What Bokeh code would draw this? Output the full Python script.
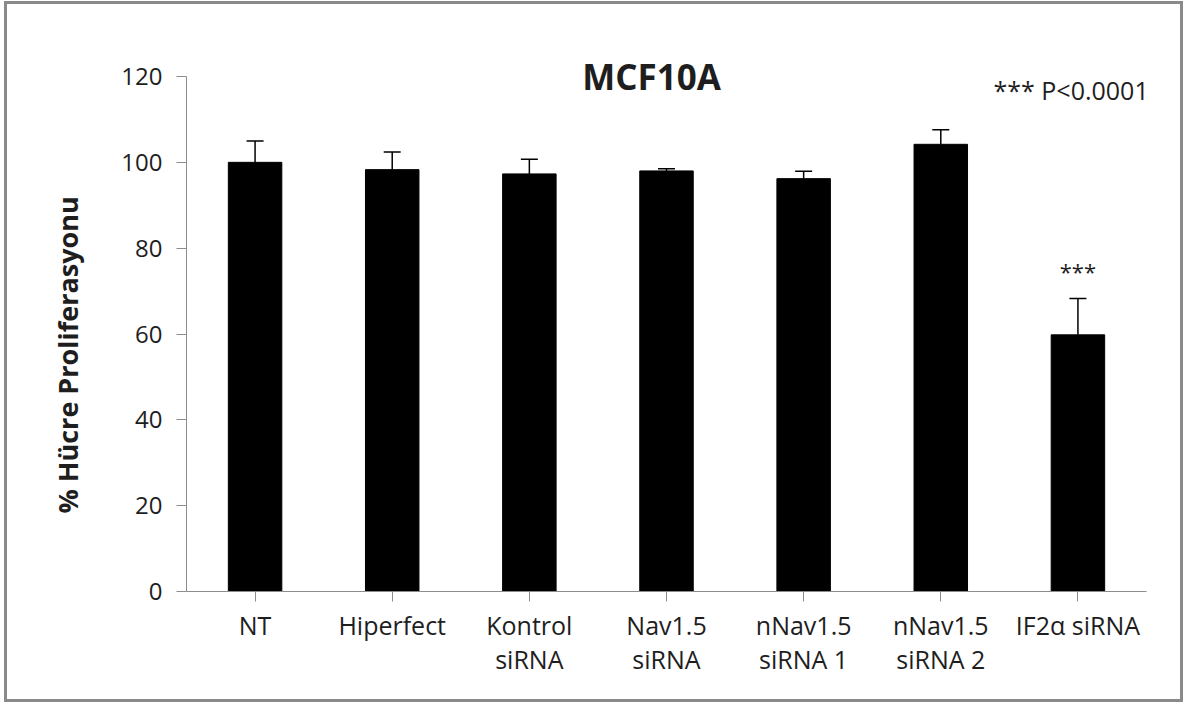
import math
from bokeh.plotting import figure
from bokeh.models import ColumnDataSource, Whisker, TeeHead, Label, FixedTicker, Title
from bokeh.core.properties import value
from bokeh.embed import file_html
from bokeh.resources import INLINE

categories = ["NT", "Hiperfect", "Kontrol\nsiRNA", "Nav1.5\nsiRNA", "nNav1.5\nsiRNA 1", "nNav1.5\nsiRNA 2", "IF2α siRNA"]
values = [100.0, 98.3, 97.3, 98.0, 96.2, 104.2, 59.8]
errors = [5.0, 4.1, 3.4, 0.5, 1.7, 3.4, 8.5]
y_ticks = [0, 20, 40, 60, 80, 100, 120]
y_axis_max = 120
title_text = "MCF10A"
y_label = "% Hücre Proliferasyonu"
p_note = "*** P<0.0001"
sig_cats = ["IF2α siRNA"]
sig_marks = ["***"]

FONT = "Open Sans"
TXT = "#1e1e1e"

upper = [v + e for v, e in zip(values, errors)]
src = ColumnDataSource(dict(x=categories, top=values, upper=upper))

px_per_unit = 515 / y_axis_max
frame_h = 532
p = figure(x_range=categories, y_range=(0, frame_h / px_per_unit), frame_width=960, frame_height=frame_h,
           output_backend="svg", toolbar_location=None, tools="",
           min_border_left=179, min_border_right=34, min_border_top=55, min_border_bottom=108)
p.styles = {"border": "3px solid #8a8a8a", "margin-left": "4px", "margin-top": "1px"}
p.outline_line_color = None
p.border_fill_color = None
p.background_fill_color = None
p.xgrid.grid_line_color = None
p.ygrid.grid_line_color = None

p.vbar(x="x", top="top", width=0.39, source=src, fill_color="black", line_color="black")

w = Whisker(source=src, base="x", upper="upper", lower="top", dimension="height",
            line_color="black", line_width=1.5,
            upper_head=TeeHead(size=17, line_color="black", line_width=1.5),
            lower_head=None)
p.add_layout(w)

sig_y = [upper[categories.index(c)] for c in sig_cats]
p.text(x=sig_cats, y=sig_y, text=sig_marks, text_align="center", text_baseline="bottom",
       y_offset=-12, text_font=value(FONT), text_font_size="22px", text_color=TXT)

# axes
p.yaxis.ticker = FixedTicker(ticks=y_ticks)
p.yaxis.bounds = (0, y_axis_max)
for ax in (p.xaxis[0], p.yaxis[0]):
    ax.axis_line_color = "#8c8c8c"
    ax.major_tick_line_color = "#8c8c8c"
    ax.minor_tick_line_color = None
    ax.major_tick_in = 0
    ax.major_tick_out = 10
    ax.major_label_text_font = FONT
    ax.major_label_text_font_size = "24px"
    ax.major_label_text_color = TXT
p.xaxis.major_label_text_font_size = "25px"
p.yaxis.major_label_standoff = 14
p.xaxis.major_label_standoff = 6
p.xaxis.major_label_text_line_height = 1.0

# y-axis title as a side title (allows vertical offset)
p.add_layout(Title(text=y_label, align="left", offset=78, standoff=66,
                   text_font=FONT, text_font_size="27px", text_font_style="bold",
                   text_color=TXT), "left")

# texts (screen units relative to the plot frame: x from left, y up from bottom)
p.add_layout(Label(x=465, y=515, x_units="screen", y_units="screen", text=title_text,
                   text_align="center", text_baseline="middle", text_font=FONT,
                   text_font_size="35px", text_font_style="bold", text_color=TXT))
p.add_layout(Label(x=807, y=502, x_units="screen", y_units="screen", text=p_note,
                   text_align="left", text_baseline="alphabetic", text_font=FONT,
                   text_font_size="25px", text_color=TXT))

open("out.html", "w").write(file_html(p, INLINE))
